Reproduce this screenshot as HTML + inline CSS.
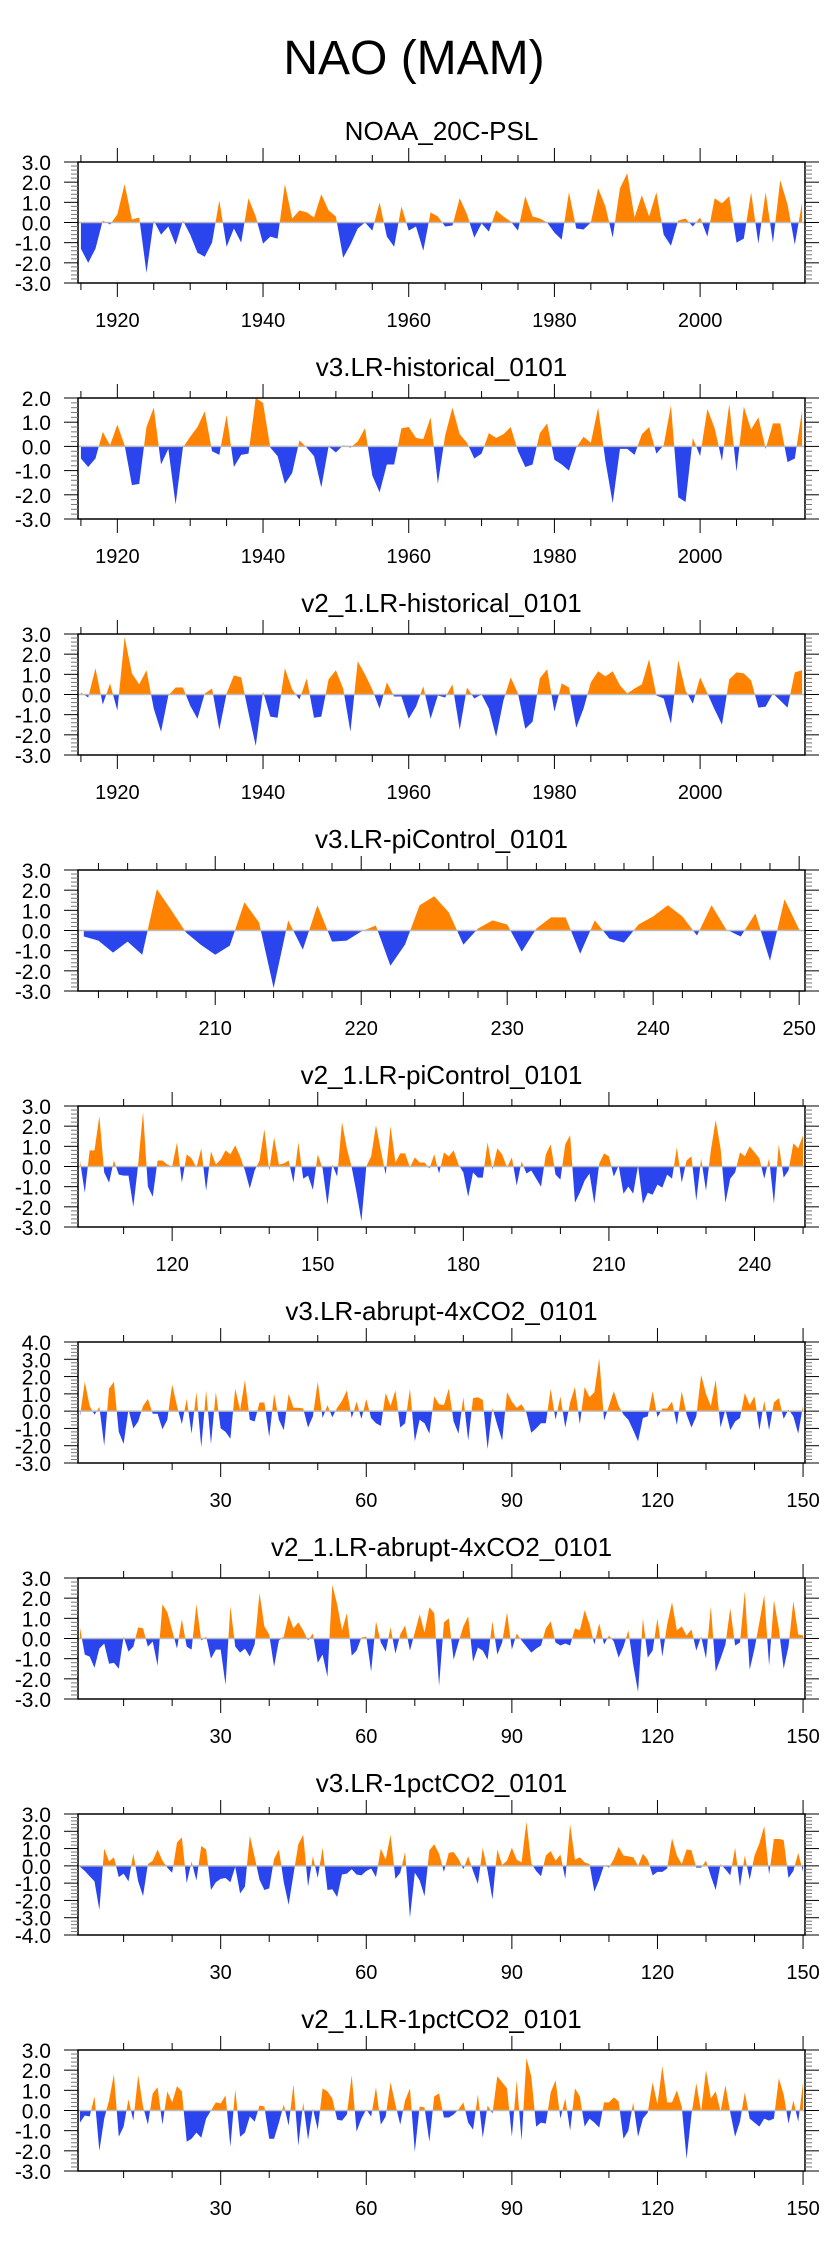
<!DOCTYPE html>
<html><head><meta charset="utf-8"><style>
html,body{margin:0;padding:0;background:#fff;}
svg{display:block;font-family:"Liberation Sans",Arial,sans-serif;}
</style></head><body>
<svg id="chart" width="829" height="2245" viewBox="0 0 829 2245" xmlns="http://www.w3.org/2000/svg">
<text x="414" y="74" font-size="48" text-anchor="middle">NAO (MAM)</text>
</svg>
<script>
const titles=["NOAA_20C-PSL","v3.LR-historical_0101","v2_1.LR-historical_0101","v3.LR-piControl_0101","v2_1.LR-piControl_0101","v3.LR-abrupt-4xCO2_0101","v2_1.LR-abrupt-4xCO2_0101","v3.LR-1pctCO2_0101","v2_1.LR-1pctCO2_0101"];
const startYears=[1915,1915,1915,201,101,1,1,1,1];
const yMins=[-3,-3,-3,-3,-3,-3,-3,-4,-3];
const yMaxs=[3,2,3,3,3,4,3,3,3];
const s0=[-1.3,-2.0,-1.3,0.1,-0.1,0.4,1.9,0.15,0.25,-2.5,0.1,-0.6,-0.2,-1.1,0.1,-0.6,-1.5,-1.7,-1.0,1.1,-1.2,-0.3,-1.0,1.2,0.3,-1.05,-0.7,-0.8,1.9,0.2,0.6,0.5,0.25,1.4,0.6,0.3,-1.75,-1.1,-0.3,0.0,-0.4,1.0,-0.7,-1.2,0.8,-0.4,-0.2,-1.4,0.5,0.3,-0.2,-0.15,1.2,0.4,-0.75,-0.05,-0.45,0.6,0.3,0.05,-0.4,1.3,0.3,0.2,0.0,-0.5,-0.85,1.5,-0.3,-0.35,0.0,1.7,0.8,-0.75,1.7,2.45,0.25,1.35,0.3,1.5,-0.6,-1.15,0.1,0.2,-0.2,0.25,-0.7,1.2,0.95,1.3,-1.0,-0.8,1.5,-1.05,1.5,-1.0,2.1,0.9,-1.1,1.0];
const s1=[-0.5,-0.85,-0.5,0.6,0.05,0.9,0.05,-1.6,-1.55,0.8,1.6,-0.75,-0.1,-2.4,-0.05,0.4,0.8,1.45,-0.2,-0.35,1.3,-0.85,-0.35,-0.3,2.0,1.8,-0.05,-0.4,-1.55,-1.1,0.25,-0.05,-0.4,-1.7,0.0,-0.25,0.05,-0.05,0.2,0.75,-1.2,-1.9,-0.75,-0.75,0.75,0.8,0.35,0.3,1.2,-1.55,0.45,1.6,0.5,0.15,-0.5,-0.3,0.55,0.35,0.5,0.8,-0.2,-0.85,-0.75,0.55,0.95,-0.55,-0.75,-1.0,-0.05,0.4,0.15,1.6,-0.6,-2.35,-0.1,-0.1,-0.35,0.5,0.8,-0.3,0.05,1.7,-2.1,-2.3,0.35,-0.4,1.55,0.75,-0.6,1.75,-1.05,1.65,0.7,1.2,-0.1,0.95,0.95,-0.65,-0.5,1.5];
const s2=[0.1,-0.15,1.3,-0.5,0.55,-0.8,2.85,1.05,0.5,1.2,-0.7,-1.85,-0.05,0.35,0.35,-0.55,-1.2,0.05,0.3,-1.75,0.05,0.95,0.85,-0.9,-2.55,0.15,-1.1,-1.15,1.3,0.25,-0.25,0.8,-1.15,-1.1,0.75,1.2,0.3,-1.85,1.65,1.0,0.25,-0.7,0.6,-0.1,-0.1,-1.2,-0.6,0.4,-1.2,-0.05,-0.15,0.5,-1.75,0.35,-0.2,0.0,-0.7,-2.1,-0.3,0.85,0.05,-1.7,-1.35,0.8,1.25,-0.85,0.55,0.35,-1.65,-0.7,0.6,1.15,0.9,1.15,0.45,0.05,0.3,0.5,1.75,-0.05,-0.2,-1.45,1.7,0.2,-0.45,0.85,0.05,-0.75,-1.5,0.75,1.1,1.05,0.7,-0.65,-0.6,0.05,-0.3,-0.65,1.1,1.2];
const s3=[-0.3,-0.5,-1.1,-0.55,-1.2,2.05,1.0,-0.1,-0.7,-1.2,-0.75,1.4,0.4,-2.85,0.5,-0.95,1.25,-0.55,-0.5,-0.05,0.25,-1.75,-0.7,1.25,1.7,0.9,-0.7,0.1,0.5,0.3,-1.05,0.1,0.65,0.65,-1.15,0.5,-0.4,-0.6,0.3,0.7,1.25,0.7,-0.25,1.25,0.05,-0.3,0.85,-1.5,1.55,0.05];
const s4=[0.3,-1.3,0.8,0.8,2.5,-0.3,-0.8,0.3,-0.4,-0.45,-0.45,-2.0,0.1,2.7,-1.0,-1.5,0.3,0.3,0.1,0.0,1.2,-0.8,0.6,0.4,-0.05,0.9,-1.2,0.75,0.1,0.35,0.8,0.6,1.05,0.5,-0.2,-1.1,-0.2,0.3,1.85,-0.2,1.45,0.1,0.15,0.3,-0.8,1.2,-0.6,-0.45,-1.15,0.6,-0.1,-1.9,0.1,-0.5,2.2,0.9,-0.05,-1.3,-2.7,0.0,0.5,2.05,0.8,-0.4,2.0,0.2,0.65,0.65,-0.05,0.45,0.2,0.2,-0.1,0.6,-0.35,0.7,0.5,0.8,0.1,-0.3,-1.5,-0.3,-0.55,-0.55,1.2,-0.15,0.9,0.6,-0.05,0.45,-0.95,0.25,-0.35,-0.2,-0.6,-1.0,0.6,1.1,-0.4,-0.65,1.1,1.55,-1.8,-1.3,-0.7,-0.35,-1.85,0.15,0.65,0.5,-0.5,0.05,-1.35,-1.0,-1.35,0.05,-1.85,-1.3,-1.4,-0.9,-1.05,-0.4,-0.6,0.95,-0.8,0.3,0.5,-1.7,0.4,-1.2,0.8,2.3,0.9,-1.8,-0.6,-0.3,0.7,0.5,1.0,0.7,0.4,-0.6,0.4,-1.85,1.1,-0.55,-0.2,1.15,0.9,1.55];
const s5=[-0.3,1.7,0.3,-0.2,0.25,-2.0,1.3,1.7,-1.2,-1.9,0.1,-1.0,-0.6,0.3,0.7,-0.15,-0.15,-1.05,-0.5,1.55,0.3,-0.75,0.7,-1.3,1.1,-2.1,1.2,-1.9,1.1,-1.0,-1.2,-1.6,1.3,0.05,1.8,-0.5,-0.6,0.5,0.5,-1.5,1.0,-0.5,-1.1,1.0,0.2,0.2,0.15,-0.95,-0.3,1.7,-0.4,0.35,-0.35,0.2,0.6,1.2,-0.4,0.55,-0.45,0.7,-0.4,-0.7,-0.85,1.05,0.3,1.2,-0.95,-0.7,1.3,-1.75,-0.5,-0.7,-1.3,0.85,0.4,0.35,1.3,-0.6,-1.3,0.8,-1.7,0.75,0.8,0.65,-2.2,0.2,-0.8,-1.7,1.1,0.55,0.2,0.4,-0.1,-1.25,-1.0,-0.7,-0.7,1.3,-0.5,0.85,-0.95,0.5,1.4,-0.75,1.4,0.8,1.1,3.05,-0.55,0.3,1.15,0.3,-0.2,-0.5,-1.1,-1.75,-0.4,-0.3,1.15,-0.35,0.15,0.15,0.55,-0.8,1.15,-0.2,-0.95,-0.3,2.1,1.0,0.3,1.8,-0.95,0.1,-1.1,-0.6,-0.4,1.05,0.35,0.85,-1.1,0.6,-1.1,0.5,0.75,-0.45,0.1,-0.3,-1.3,0.35];
const s6=[0.55,-0.8,-0.9,-1.45,-0.5,-0.25,-1.25,-1.2,-1.5,0.1,-0.65,-0.4,0.55,0.5,-0.4,-0.15,-1.35,1.7,1.3,0.4,-0.5,0.95,-0.4,-0.55,1.7,-0.1,0.1,-1.0,-0.55,-0.55,-2.3,1.6,-0.4,-0.7,-0.5,-0.9,-0.3,2.25,0.6,0.2,-1.4,-0.1,0.1,1.15,0.5,0.8,0.4,-0.1,0.25,-1.2,-0.8,-1.9,2.65,1.7,0.4,1.25,-0.85,-0.6,0.05,0.1,-1.65,0.85,-0.2,-0.65,0.55,-0.75,0.2,0.65,-0.6,0.3,1.2,0.3,1.55,1.25,-2.35,0.8,1.0,-1.05,-0.2,0.6,1.1,-1.15,-0.45,-0.6,-1.05,0.85,-0.8,-0.2,1.3,-0.55,0.25,-0.1,-0.4,-0.7,-0.5,-0.35,0.5,0.85,-0.2,-0.35,-0.25,-0.35,0.5,0.4,1.4,0.7,-0.3,0.75,-0.3,0.15,-0.15,-0.95,-0.4,0.4,-1.3,-2.65,1.0,-0.95,-0.6,1.0,-0.9,0.7,1.8,0.4,0.6,0.15,0.45,-0.6,0.1,-1.0,1.6,-1.65,-1.0,-0.3,1.5,-0.35,-0.2,2.35,-1.55,-0.5,0.8,2.15,-1.35,1.9,0.5,-1.5,-0.4,1.85,0.2,0.15];
const s7=[-0.05,-0.3,-0.6,-0.9,-2.55,1.0,0.25,0.5,-0.65,-0.45,-0.9,0.7,-0.9,-1.75,0.1,0.3,0.95,0.3,-0.1,-0.4,1.35,1.65,-1.0,0.25,-0.85,1.15,0.95,-1.4,-0.95,-0.75,-0.7,-0.95,-0.05,-1.6,-1.2,1.75,0.5,-0.8,-1.4,-1.3,0.4,0.95,-0.95,-2.25,-0.5,1.25,1.8,-1.2,0.55,-0.7,1.05,-1.4,-1.35,-1.8,-0.5,-0.45,-0.2,-0.5,-0.55,-0.3,-0.15,-0.65,1.0,0.35,1.8,-0.75,-0.4,0.8,-3.0,-0.4,-0.85,-1.75,0.9,1.25,0.7,-0.35,0.75,0.8,0.4,-0.2,0.55,-0.3,-1.05,1.05,-0.3,-1.95,0.95,0.05,0.3,1.05,0.35,0.2,2.55,0.15,-0.3,-0.6,0.6,0.85,0.3,0.65,-0.75,2.4,0.35,0.5,0.2,0.1,-1.5,-0.8,0.05,-0.1,0.4,1.1,0.6,0.55,0.5,0.0,0.7,0.35,-0.55,-0.35,-0.35,-0.15,1.6,0.6,0.1,0.95,0.9,-0.1,-0.1,0.3,-0.6,-1.4,0.1,-0.2,-0.55,1.05,-1.2,0.6,-0.8,0.6,1.3,2.3,-0.5,1.55,1.55,1.5,-0.7,-0.3,0.75,-0.35];
const s8=[-0.6,-0.25,-0.3,0.7,-2.0,-0.4,0.5,1.8,-1.3,-0.8,0.55,-0.5,1.75,0.2,-0.7,0.85,1.15,-0.7,0.95,0.4,1.2,0.95,-1.55,-1.4,-1.1,-1.35,-0.4,0.0,0.4,0.35,0.75,-1.8,1.05,-1.3,-1.1,-0.3,-0.55,0.25,0.2,-1.4,-1.4,-0.6,0.3,-0.75,1.3,-1.75,0.4,-1.45,0.1,-0.95,1.1,0.95,0.6,-0.45,-0.5,-0.2,1.75,-1.05,-0.4,0.05,-0.3,1.15,-0.7,-0.3,1.4,0.3,-0.7,0.5,1.1,-2.05,0.2,0.15,-1.55,0.7,0.85,-0.35,-0.35,-0.2,0.05,0.4,-0.6,-0.95,0.8,-1.35,0.25,-0.15,1.7,1.4,1.1,-1.3,1.5,-1.5,2.6,1.7,-0.8,-0.6,-0.65,0.9,1.5,-0.4,0.6,-1.0,1.1,0.7,-0.8,-0.4,-0.6,-0.85,0.4,0.4,0.65,0.45,-1.4,-1.0,0.4,-1.3,-0.4,-0.1,1.4,0.3,2.2,0.4,0.4,1.0,0.2,-2.4,-0.2,1.35,-0.05,2.0,0.6,0.95,-0.05,1.25,-0.1,-1.3,-0.55,0.9,-0.4,-0.6,-0.8,-0.4,-0.5,-0.4,1.6,0.8,-0.65,0.5,-0.55,1.4];
const series=[s0,s1,s2,s3,s4,s5,s6,s7,s8];
const majorTickLabels=[[1920,1940,1960,1980,2000],[1920,1940,1960,1980,2000],[1920,1940,1960,1980,2000],[210,220,230,240,250],[120,150,180,210,240],[30,60,90,120,150],[30,60,90,120,150],[30,60,90,120,150],[30,60,90,120,150]];
const minorSteps=[5,5,5,2,10,10,10,10,10];

const NS="http://www.w3.org/2000/svg";
const svg=document.getElementById('chart');
const L=78,R=805,H=121,TOP0=162,GAP=236;
function mk(tag,attrs,parent){const e=document.createElementNS(NS,tag);for(const k in attrs)e.setAttribute(k,attrs[k]);(parent||svg).appendChild(e);return e;}

series.forEach((vals,p)=>{
  const top=TOP0+GAP*p,bot=top+H;
  const n=vals.length,x0=startYears[p]-0.4,x1=startYears[p]+n-1+0.4;
  const xs=v=>L+(v-x0)/(x1-x0)*(R-L);
  const ymin=yMins[p],ymax=yMaxs[p];
  const ys=v=>bot-(v-ymin)/(ymax-ymin)*H;
  const g=mk('g',{});
  
  
  const t=mk('text',{x:(L+R)/2,y:top-22,'font-size':26,'text-anchor':'middle'},g);
  t.textContent=titles[p];
  
  
  const y0=ys(0);
  const cpA=mk('clipPath',{id:'ca'+p},g);mk('rect',{x:L,y:top,width:R-L,height:y0-top},cpA);
  const cpB=mk('clipPath',{id:'cb'+p},g);mk('rect',{x:L,y:y0,width:R-L,height:bot-y0},cpB);
  let pts=xs(startYears[p]).toFixed(2)+','+y0.toFixed(2)+' ';
  vals.forEach((v,i)=>{pts+=xs(startYears[p]+i).toFixed(2)+','+ys(v).toFixed(2)+' ';});
  pts+=xs(startYears[p]+n-1).toFixed(2)+','+y0.toFixed(2);
  const pa=mk('polygon',{points:pts,fill:'#ff8300','clip-path':'url(#ca'+p+')'},g);
  
  
  const pb=mk('polygon',{points:pts,fill:'#2b45ee','clip-path':'url(#cb'+p+')'},g);
  
  
  const zl=mk('line',{x1:L,x2:R,y1:y0,y2:y0,stroke:'#bbbbbb','stroke-width':1.5},g);
  
  
  const fr=mk('rect',{x:L,y:top,width:R-L,height:H,fill:'none',stroke:'#000','stroke-width':1.5},g);
  
  
  for(let k=Math.round(ymin*5);k<=Math.round(ymax*5);k++){
    const v=k/5,y=ys(v),major=(k%5===0),len=major?14:7;
    mk('line',{x1:L-len,x2:L,y1:y,y2:y,stroke:major?'#000':'#777','stroke-width':1},g);
    mk('line',{x1:R,x2:R+len,y1:y,y2:y,stroke:major?'#000':'#777','stroke-width':1},g);
    if(major){const tl=mk('text',{x:51,y:y+8,'font-size':21,'text-anchor':'end'},g);tl.textContent=v.toFixed(1);
      
      }
  }
  const st=minorSteps[p],first=Math.ceil(x0/st)*st;
  const majors=majorTickLabels[p];
  for(let v=first;v<=x1;v+=st){
    const x=xs(v),major=majors.includes(v),len=major?14:7;
    mk('line',{x1:x,x2:x,y1:top-len,y2:top,stroke:'#000','stroke-width':1},g);
    mk('line',{x1:x,x2:x,y1:bot,y2:bot+len,stroke:'#000','stroke-width':1},g);
  }
  majors.forEach(v=>{const tl=mk('text',{x:xs(v),y:bot+44,'font-size':20,'text-anchor':'middle'},g);tl.textContent=v;
    
    });
});
</script>
</body></html>
